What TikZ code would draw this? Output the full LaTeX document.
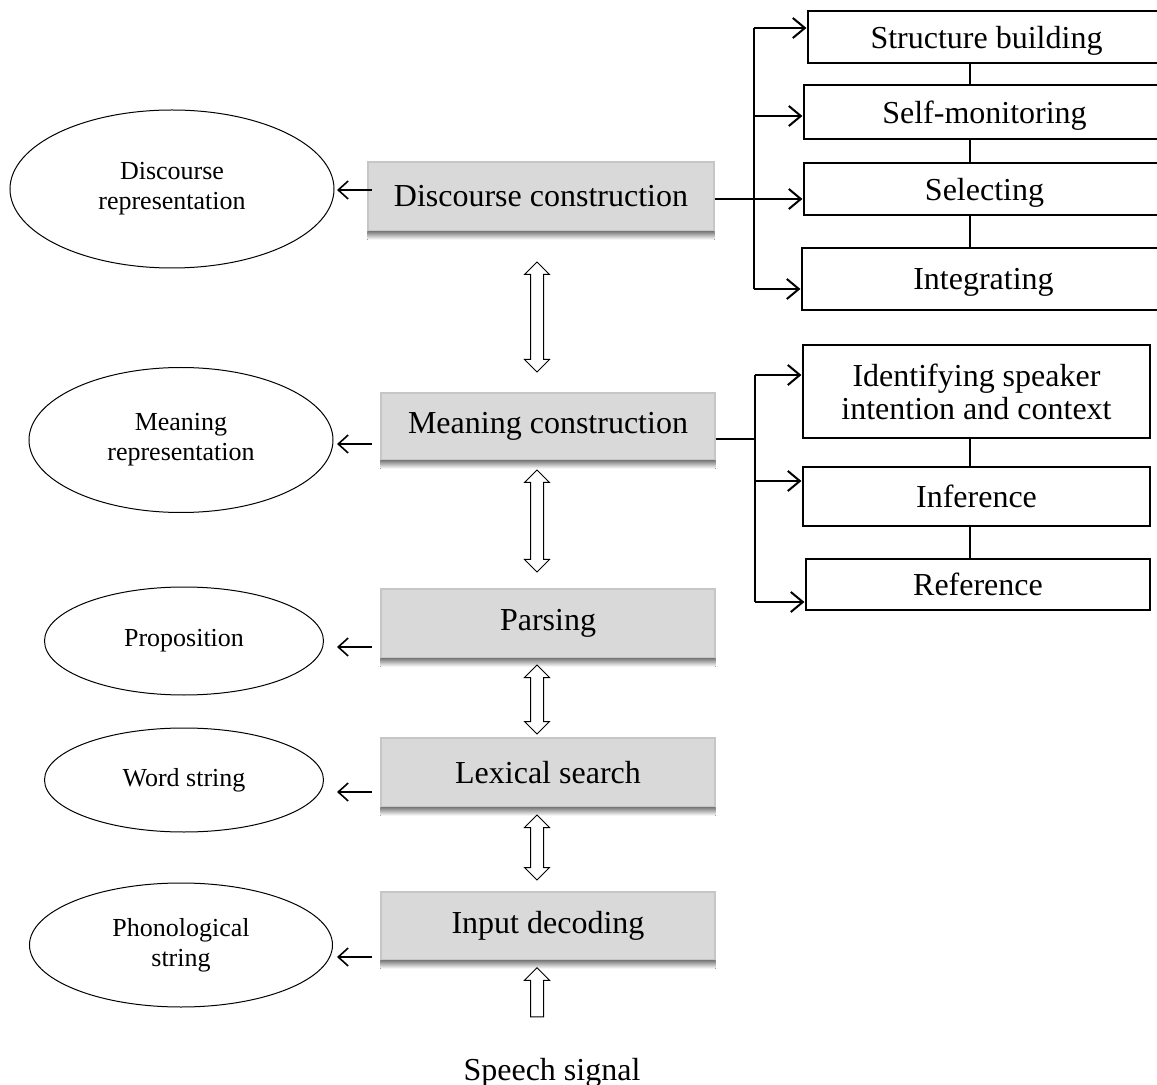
\documentclass[tikz,border=0pt]{standalone}
\usepackage{fontspec}
\setmainfont{Liberation Serif}
\usetikzlibrary{positioning}
\usetikzlibrary{calc}
\usetikzlibrary{arrows.meta}
\usetikzlibrary{shapes.geometric, shapes.arrows}
\definecolor{stagefill}{HTML}{D9D9D9}
\definecolor{stageline}{HTML}{C6C6C6}
\definecolor{shade}{HTML}{999999}
\tikzset{
	stage/.style = {rectangle, fill=stagefill, draw=stageline, line width=0.6pt, inner sep=0pt, align=center, font=\fontsize{16}{19}\selectfont},
	task/.style = {rectangle, draw, line width=0.6pt, inner sep=0pt, align=center, text depth=0pt, font=\fontsize{16}{16.5}\selectfont},
	rep/.style = {ellipse, draw, line width=0.5pt, inner sep=0pt, align=center, font=\fontsize{13}{15}\selectfont},
	back/.style = {-{Straight Barb[length=5pt,width=9pt]}, line width=0.8pt},
	branch/.style = {-{Straight Barb[length=6pt,width=10pt]}, line width=1pt},
	link/.style = {line width=1pt},
	twoway/.style = {double arrow, draw, fill=white, line width=0.5pt, inner sep=3pt, double arrow head extend=3pt, shape border rotate=90},
	oneway/.style = {single arrow, draw, fill=white, line width=0.5pt, inner sep=3pt, single arrow head extend=3pt, shape border rotate=90}
}

\begin{document}
\begin{tikzpicture}[x=0.5pt, y=-0.5pt]
	\useasboundingbox (0,0) rectangle (1157,1085);
	\clip (0,0) rectangle (1157,1085);
	
	% processing stages
	\node (dc) [stage, minimum width=173pt, minimum height=34.5pt] at (541,196.5) {Discourse construction};
	\node (mc) [stage, minimum width=167pt, minimum height=33.5pt] at (548,426.5) {Meaning construction};
	\node (pa) [stage, minimum width=167pt, minimum height=34.5pt] at (548,623.5) {Parsing};
	\node (ls) [stage, minimum width=167pt, minimum height=34.5pt] at (548,772.5) {Lexical search};
	\node (id) [stage, minimum width=167pt, minimum height=34pt] at (548,926) {Input decoding};
	\foreach \n in {dc,mc,pa,ls,id}
		\fill[shade] (\n.south west) rectangle ([yshift=-4pt]\n.south east);
	
	% representations
	\node (e1) [rep, minimum width=162pt, minimum height=79pt] at (172,189) {Discourse\\representation};
	\node (e2) [rep, minimum width=152pt, minimum height=72.5pt] at (181,440) {Meaning\\representation};
	\node (e3) [rep, minimum width=139.5pt, minimum height=54pt] at (184,641) {Proposition};
	\node (e4) [rep, minimum width=139.5pt, minimum height=52pt] at (184,780) {Word string};
	\node (e5) [rep, minimum width=151.5pt, minimum height=62pt] at (181,945) {Phonological\\string};
	
	\coordinate (bs) at (372,0);
	\coordinate (bt) at (337,0);
	\foreach \r/\d in {e1/1, e2/4, e3/6, e4/12, e5/12}
		\draw[back] ($(bs |- \r.east)+(0,\d)$) -- ($(bt |- \r.east)+(0,\d)$);
	
	% flow between stages
	\node (a1) [twoway, minimum height=55pt] at (537,317) {};
	\node (a2) [twoway, minimum height=51pt] at (537,521) {};
	\node (a3) [twoway, minimum height=34.5pt] at (537,699.5) {};
	\node (a4) [twoway, minimum height=32.5pt] at (537,847.5) {};
	\node (up) [oneway, minimum height=24.5pt] at (537,995.5) {};
	\node (sig) [anchor=base, font=\fontsize{16}{19}\selectfont] at (552,1080) {Speech signal};
	
	% discourse tasks
	\node (sb) [task, minimum width=178.5pt, minimum height=26pt] at (986.5,37) {Structure building};
	\node (sm) [task, minimum width=180.5pt, minimum height=27pt] at (984.5,112) {Self-monitoring};
	\node (se) [task, minimum width=180.5pt, minimum height=26pt] at (984.5,189) {Selecting};
	\node (ig) [task, minimum width=181.5pt, minimum height=31pt] at (983.5,279) {Integrating};
	
	\coordinate (t1) at (754,199);
	\draw[link] (dc.east |- t1) -- (t1);
	\draw[link] ($(t1 |- sb.west)+(0,-9)$) -- ($(t1 |- ig.west)+(0,10)$);
	\foreach \b/\d in {sb/-9, sm/4, se/10, ig/10}
		\draw[branch] ($(t1 |- \b.west)+(0,\d)$) -- ($(\b.west)+(-1,\d)$);
	
	% meaning tasks
	\node (isc) [task, minimum width=173.5pt, minimum height=46.5pt] at (976.5,391.5) {Identifying speaker\\intention and context};
	\node (inf) [task, minimum width=173.5pt, minimum height=29.5pt] at (976.5,496.5) {Inference};
	\node (ref) [task, minimum width=172pt, minimum height=25.5pt] at (978,584.5) {Reference};
	
	\coordinate (t2) at (755,439);
	\draw[link] (mc.east |- t2) -- (t2);
	\draw[link] ($(t2 |- isc.west)+(0,-16.5)$) -- ($(t2 |- ref.west)+(0,17.5)$);
	\foreach \b/\d in {isc/-16.5, inf/-15.5, ref/17.5}
		\draw[branch] ($(t2 |- \b.west)+(0,\d)$) -- ($(\b.west)+(-1,\d)$);
	
	\coordinate (c1) at (970,0);
	\foreach \a/\b in {sb/sm, sm/se, se/ig, isc/inf, inf/ref}
		\draw[line width=0.6pt] (\a.south -| c1) -- (\b.north -| c1);
\end{tikzpicture}
\end{document}
